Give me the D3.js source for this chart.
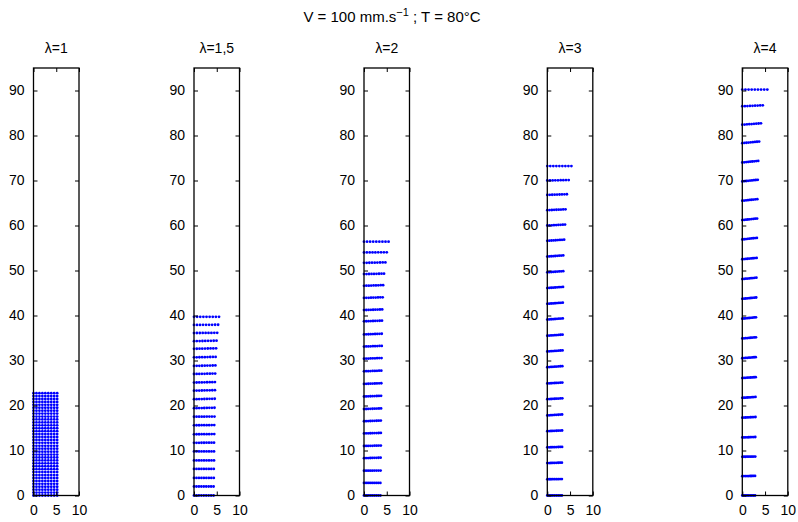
<!DOCTYPE html>
<html>
<head>
<meta charset="utf-8">
<script src="https://cdn.jsdelivr.net/npm/d3@7"></script>
<style>
  body { margin: 0; background: #fff; }
  svg { display: block; }
  text { font-family: "Liberation Sans", Arial, sans-serif; }
</style>
</head>
<body>
<svg id="chart" width="798" height="522"></svg>
<script>
// ---- DATA ----
const panelTitles = ["λ=1", "λ=1,5", "λ=2", "λ=3", "λ=4"];
const yTicks = [0, 10, 20, 30, 40, 50, 60, 70, 80, 90];
const xTicks = [0, 5, 10];
// fraction of the row width at which each mesh point sits (9 points per row)
const colFrac = [0, 0.125, 0.25, 0.375, 0.5, 0.625, 0.75, 0.875, 1];

// row heights (bottom to top) for each stretch ratio
const rowsL1 = [0, 0.65, 1.3, 1.95, 2.6, 3.25, 3.9, 4.55, 5.2, 5.85, 6.5, 7.15, 7.8, 8.45, 9.1, 9.75, 10.4, 11.05,
  11.7, 12.35, 13.0, 13.65, 14.3, 14.95, 15.6, 16.25, 16.9, 17.55, 18.2, 18.85, 19.5, 20.15, 20.8, 21.45, 22.1, 22.75];
const widthL1 = [5.2, 5.2, 5.2, 5.2, 5.2, 5.2, 5.2, 5.2, 5.2, 5.2, 5.2, 5.2, 5.2, 5.2, 5.2, 5.2, 5.2, 5.2,
  5.2, 5.2, 5.2, 5.2, 5.2, 5.2, 5.2, 5.2, 5.2, 5.2, 5.2, 5.2, 5.2, 5.2, 5.2, 5.2, 5.2, 5.2];
const tiltL1 = rowsL1.map(() => 0);

const rowsL15 = [0, 2.0, 3.9, 5.9, 7.8, 9.8, 11.7, 13.6, 15.6, 17.5, 19.4, 21.4, 23.3, 25.1, 27.0, 28.8, 30.7, 32.6, 34.3, 36.1, 37.9, 39.7];
const widthL15 = [4.3, 4.3, 4.35, 4.35, 4.4, 4.4, 4.4, 4.45, 4.45, 4.5, 4.5, 4.55, 4.6, 4.6, 4.65, 4.7, 4.75, 4.85, 4.95, 5.1, 5.3, 5.5];
const tiltL15 = [0, 0, 0, 0, 0, 0, 0.05, 0.05, 0.05, 0.05, 0.1, 0.1, 0.1, 0.1, 0.1, 0.1, 0.1, 0.1, 0.1, 0.05, 0.05, 0];

const rowsL2 = [0, 2.8, 5.5, 8.3, 11.0, 13.8, 16.5, 19.2, 22.0, 24.8, 27.6, 30.4, 33.1, 35.8, 38.7, 41.2, 43.9, 46.6, 49.2, 51.7, 54.0, 56.4];
const widthL2 = [3.6, 3.6, 3.65, 3.65, 3.7, 3.7, 3.7, 3.75, 3.75, 3.8, 3.8, 3.85, 3.9, 3.9, 3.95, 4.0, 4.1, 4.2, 4.4, 4.7, 5.0, 5.4];
const tiltL2 = [0, 0, 0.05, 0.1, 0.1, 0.1, 0.15, 0.15, 0.15, 0.15, 0.15, 0.15, 0.15, 0.15, 0.15, 0.15, 0.15, 0.15, 0.1, 0.1, 0.05, 0];

const rowsL3 = [0, 3.6, 7.2, 10.7, 14.3, 17.8, 21.4, 24.9, 28.5, 32.0, 35.5, 39.1, 42.6, 46.1, 49.6, 53.1, 56.6, 60.0, 63.4, 66.8, 70.0, 73.2];
const widthL3 = [3.2, 3.2, 3.2, 3.25, 3.25, 3.25, 3.3, 3.3, 3.3, 3.35, 3.35, 3.4, 3.4, 3.45, 3.5, 3.5, 3.7, 3.9, 4.0, 4.3, 4.7, 5.3];
const tiltL3 = [0, 0.05, 0.1, 0.1, 0.15, 0.2, 0.2, 0.2, 0.25, 0.25, 0.25, 0.25, 0.25, 0.25, 0.25, 0.25, 0.25, 0.2, 0.2, 0.15, 0.1, 0];

const rowsL4 = [0, 4.3, 8.6, 12.9, 17.3, 21.7, 26.1, 30.5, 34.9, 39.3, 43.7, 48.1, 52.5, 56.9, 61.2, 65.5, 69.8, 74.0, 78.3, 82.4, 86.5, 90.2];
const widthL4 = [2.8, 2.8, 2.85, 2.85, 2.9, 2.9, 2.95, 2.95, 3.0, 3.0, 3.05, 3.1, 3.15, 3.2, 3.25, 3.3, 3.4, 3.5, 3.7, 4.1, 4.5, 5.5];
const tiltL4 = [0, 0.05, 0.05, 0.1, 0.15, 0.2, 0.2, 0.25, 0.25, 0.3, 0.3, 0.3, 0.3, 0.35, 0.35, 0.35, 0.35, 0.35, 0.35, 0.3, 0.2, 0];

const panelRows = [rowsL1, rowsL15, rowsL2, rowsL3, rowsL4];
const panelWidths = [widthL1, widthL15, widthL2, widthL3, widthL4];
const panelTilts = [tiltL1, tiltL15, tiltL2, tiltL3, tiltL4];

// ---- LAYOUT ----
const svg = d3.select("#chart");
const panelLeft = [33.5, 194, 364, 547.3, 742.3];
const panelW = 45.5;
const yBottom = 495.5, yTop = 68;
const fs = 14;

// Figure title
const t = svg.append("text")
  .attr("x", 392).attr("y", 22)
  .attr("text-anchor", "middle")
  .attr("font-size", 15);
t.append("tspan").text("V = 100 mm.s");
t.append("tspan").attr("dy", -6).attr("font-size", 11).text("\u22121");
t.append("tspan").attr("dy", 6).text(" ; T = 80°C");

panelTitles.forEach((title, i) => {
  const x = d3.scaleLinear().domain([0, 10]).range([panelLeft[i], panelLeft[i] + panelW]);
  const y = d3.scaleLinear().domain([0, 95]).range([yBottom, yTop]);
  const g = svg.append("g");

  // points
  const pts = [];
  panelRows[i].forEach((ry, r) => {
    const w = panelWidths[i][r];
    const tl = panelTilts[i][r];
    colFrac.forEach(f => pts.push([w * f, ry + tl * f]));
  });
  g.append("g").selectAll("circle").data(pts).join("circle")
    .attr("cx", d => x(d[0]))
    .attr("cy", d => y(d[1]))
    .attr("r", 1.4)
    .attr("fill", "#0000ff");

  // axes (ticks inward on all sides)
  const axL = d3.axisLeft(y).tickValues(yTicks).tickSizeInner(-4).tickSizeOuter(0).tickPadding(9);
  const axR = d3.axisRight(y).tickValues(yTicks).tickSizeInner(-4).tickSizeOuter(0).tickFormat("");
  const axB = d3.axisBottom(x).tickValues(xTicks).tickSizeInner(-4).tickSizeOuter(0).tickPadding(10);
  const axT = d3.axisTop(x).tickValues(xTicks).tickSizeInner(-4).tickSizeOuter(0).tickFormat("");

  const styleAxis = sel => {
    sel.select(".domain").remove();
    sel.selectAll("line").attr("stroke", "#000").attr("stroke-width", 1);
    sel.selectAll("text").attr("font-size", fs).attr("fill", "#000")
      .attr("font-family", "Liberation Sans, Arial, sans-serif");
  };
  g.append("g").attr("transform", `translate(${panelLeft[i]},0)`).call(axL).call(styleAxis);
  g.append("g").attr("transform", `translate(${panelLeft[i] + panelW},0)`).call(axR).call(styleAxis);
  g.append("g").attr("transform", `translate(0,${yBottom})`).call(axB).call(styleAxis);
  g.append("g").attr("transform", `translate(0,${yTop})`).call(axT).call(styleAxis);

  // box
  g.append("rect")
    .attr("x", panelLeft[i]).attr("y", yTop)
    .attr("width", panelW).attr("height", yBottom - yTop)
    .attr("fill", "none").attr("stroke", "#000").attr("stroke-width", 1.3);

  // panel title
  g.append("text")
    .attr("x", panelLeft[i] + panelW / 2)
    .attr("y", 53)
    .attr("text-anchor", "middle")
    .attr("font-size", fs)
    .text(title);
});
</script>
</body>
</html>
